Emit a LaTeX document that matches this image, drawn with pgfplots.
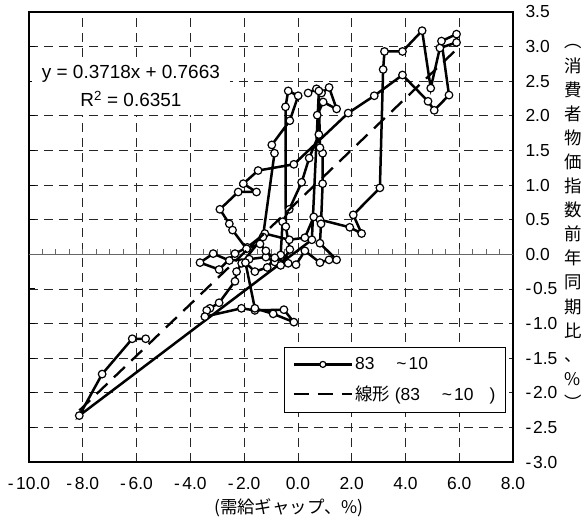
\documentclass[border=0pt]{standalone}
\usepackage{fontspec}
\setmainfont{Liberation Sans}
\newfontfamily\cjk{Noto Sans CJK JP}
\usepackage{pgfplots}
\pgfplotsset{compat=1.18}

\begin{document}
\begin{tikzpicture}
\path[use as bounding box] (-29bp,-60bp) rectangle (558bp,462bp);
\begin{axis}[
  at={(0,0)}, anchor=south west,
  scale only axis, width=484bp, height=450bp,
  xmin=-10, xmax=8, ymin=-3, ymax=3.5,
  clip mode=individual,
  xtick={-10,-8,-6,-4,-2,0,2,4,6,8},
  xticklabels={-\hspace{0.15em}10.0,-\hspace{0.15em}8.0,-\hspace{0.15em}6.0,-\hspace{0.15em}4.0,-\hspace{0.15em}2.0,0.0,2.0,4.0,6.0,8.0},
  ytick={-3,-2.5,-2,-1.5,-1,-0.5,0,0.5,1,1.5,2,2.5,3,3.5},
  yticklabels={-\hspace{0.1em}3.0,-\hspace{0.1em}2.5,-\hspace{0.1em}2.0,-\hspace{0.1em}1.5,-\hspace{0.1em}1.0,-\hspace{0.1em}0.5,0.0,0.5,1.0,1.5,2.0,2.5,3.0,3.5},
  yticklabel pos=right, ytick pos=left,
  xtick style={draw=none},
  ytick style={black, line width=1bp},
  major tick length=6bp,
  tick align=inside,
  grid=major,
  major grid style={black!85, line width=0.7bp, dash pattern=on 9bp off 6bp},
  axis line style={black, line width=1.2bp},
  ticklabel style={font=\fontsize{17.5}{20}\selectfont},
  xticklabel style={yshift=-12bp},
  yticklabel style={xshift=9bp},
  legend style={at={(0.9855,0.2556)}, anchor=north east, draw=black, line width=1.2bp, fill=white,
    inner xsep=8bp, inner ysep=8bp, font=\fontsize{17.5}{20}\selectfont, row sep=11bp,
    cells={anchor=west}},
  legend image code/.code={\draw[#1, mark repeat=2, mark phase=2, mark size=3bp] plot coordinates {(7bp,0bp) (36bp,0bp) (65bp,0bp)};},
]
\draw[black!60, line width=1.6bp] (axis cs:-10,0) -- (axis cs:8,0);
\pgfplotsinvokeforeach{-9.5,-9,-8.5,-8,-7.5,-7,-6.5,-6,-5.5,-5,-4.5,-4,-3.5,-3,-2.5,-2,-1.5,-1,-0.5,0,0.5,1,1.5,2,2.5,3,3.5,4,4.5,5,5.5,6,6.5,7,7.5}{
  \draw[black!60, line width=1bp] (axis cs:#1,0) -- (axis cs:#1,0.075);
}
\node[fill=white, align=center, inner xsep=10bp, inner ysep=8bp, font=\fontsize{19}{28}\selectfont]
  at (axis cs:-6.21,2.43) {y = 0.3718x + 0.7663\\R\textsuperscript{2} = 0.6351};

\addplot[black, line width=2.5bp, mark=*, mark size=3.8bp,
  mark options={fill=white, draw=black, line width=1.2bp, solid}] coordinates {
(0.38,2.33) (0.69,2.39) (0.88,2.33) (1.16,2.41) (1.44,2.10) (0.94,2.20)
(0.72,2.01) (0.78,1.73) (0.42,1.39) (0.14,1.04) (-0.32,0.65) (-0.57,0.47)
(-0.64,-0.01) (-0.86,-0.11) (-1.19,-0.04) (-1.81,-0.07) (-2.55,-0.09) (-3.15,0.01)
(-3.64,-0.12) (-2.93,-0.22) (-2.34,0.01) (-1.88,0.10) (-1.23,0.30) (-0.32,0.21)
(0.26,0.24) (0.59,0.54) (0.82,0.50) (1.93,0.39) (2.37,0.30) (2.06,0.57)
(3.05,0.96) (3.17,2.67) (3.22,2.93) (3.89,2.93) (4.62,3.23) (4.94,2.40)
(5.28,2.98) (5.90,3.06) (5.90,3.18) (5.34,3.08) (5.62,2.30) (5.07,2.08)
(4.84,2.21) (3.89,2.59) (2.84,2.29) (1.87,2.04) (-0.15,1.30) (-1.48,1.21)
(-2.03,1.02) (-1.54,0.90) (-2.22,0.90) (-2.90,0.65) (-2.55,0.44) (-2.43,0.35)
(-1.91,0.08) (-1.41,0.15) (-1.19,0.05) (-0.64,-0.16) (-0.30,0.07) (-0.45,0.40)
(-0.46,2.13) (-0.36,2.36) (0.01,2.29) (-0.30,1.93) (-0.97,1.58) (-0.87,1.46)
(-1.30,0.25) (-2.09,-0.13) (-2.28,-0.25) (-2.34,-0.39) (-2.93,-0.70) (-3.27,-0.78)
(-3.39,-0.81) (-3.46,-0.90) (-2.10,-0.78) (-1.60,-0.81) (-0.52,-0.80) (-0.15,-0.98)
(-0.92,-0.86) (-1.60,-0.78) (-1.95,-0.12) (-1.60,-0.25) (-1.14,-0.19) (-0.86,-0.05)
(-0.36,-0.13) (-0.07,-0.15) (0.26,0.05) (0.82,-0.12) (1.16,-0.08) (1.44,-0.08)
(0.82,0.16) (0.86,0.44) (0.92,1.02) (0.92,1.46) (0.82,1.54) (0.78,2.36)
(0.52,0.21) (-8.13,-2.33) (-7.28,-1.73) (-6.16,-1.22) (-5.66,-1.22)
};
\addlegendentry{83\hspace{22bp}\textasciitilde\hspace{2bp}10}
\addplot[black, line width=2.3bp, dash pattern=on 15bp off 9bp] coordinates {(-8.13,-2.2564) (5.90,2.9599)};
\addlegendentry{{\cjk 線形} (83\hspace{22bp}\textasciitilde\hspace{2bp}10\hspace{16bp})}

\node[font=\cjk\fontsize{17.5}{24.2}\selectfont, align=center, inner sep=0pt]
  at (axis description cs:1.124,0.522) {︵\\消\\費\\者\\物\\価\\指\\数\\前\\年\\同\\期\\比\\、\\\%\\︶};
\node[font=\cjk\fontsize{17.5}{20}\selectfont, inner sep=0pt]
  at (axis description cs:0.537,-0.102) {(需給ギャップ、\%)};
\end{axis}
\end{tikzpicture}
\end{document}
